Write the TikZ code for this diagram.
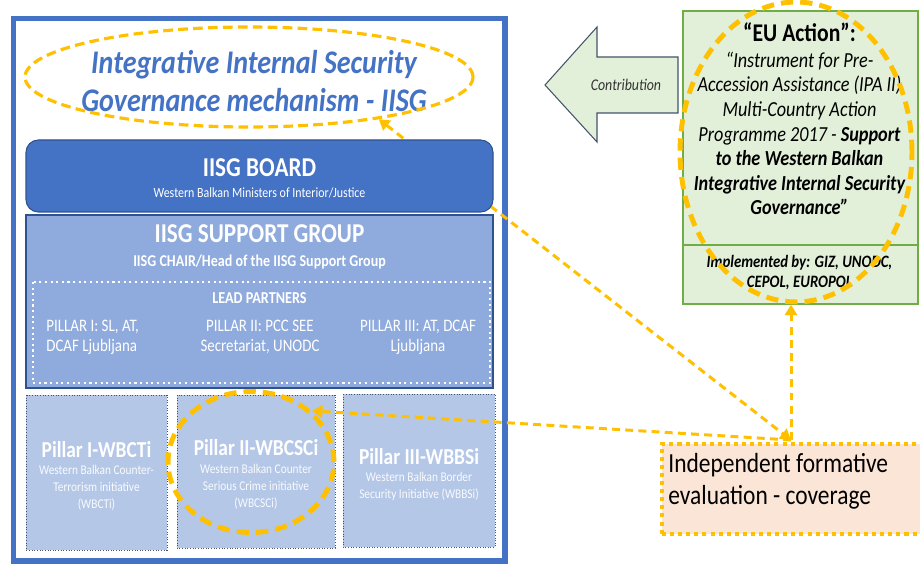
\documentclass[tikz,border=0pt]{standalone}
\usepackage{fontspec}
\setmainfont{Carlito}[FakeStretch=0.85]
\usepackage{xcolor}
\definecolor{iisg-blue}{HTML}{4472C4}
\definecolor{iisg-dark}{HTML}{2F528F}
\definecolor{iisg-mid}{HTML}{8FAADC}
\definecolor{iisg-light}{HTML}{B4C7E7}
\definecolor{pillar-edge}{HTML}{44546A}
\definecolor{eu-green}{HTML}{70AD47}
\definecolor{eu-fill}{HTML}{E2F0D9}
\definecolor{eval-fill}{HTML}{FBE5D6}
\definecolor{mark-gold}{HTML}{FFC000}
\usepackage{tikz}
\usetikzlibrary{shapes.geometric,arrows.meta}

\tikzset{
    group-title/.style={text=white, inner sep=0pt, font=\bfseries\fontsize{15.5}{18}\selectfont},
    pillar-title/.style={text=white, inner sep=0pt, font=\bfseries\fontsize{13}{15}\selectfont},
    pillar-note/.style={text=white!92!iisg-light, inner sep=0pt, align=center, font=\fontsize{7.6}{9.7}\selectfont},
    partner/.style={text=white, inner sep=0pt, align=center, font=\fontsize{10}{11.4}\selectfont},
    pillar-box/.style={fill=iisg-light, draw=pillar-edge, line width=0.5pt, densely dotted},
    ring/.style={ellipse, draw=mark-gold, inner sep=0pt},
    link/.style={draw=mark-gold, line width=1.7pt, dash pattern=on 4.5pt off 3pt, >={Triangle[length=6pt, width=7pt]}},
}

\begin{document}
\begin{tikzpicture}[x=0.02cm, y=-0.02cm]

    % Canvas
    \useasboundingbox (0, 0) rectangle (920, 564);

    % Frame
    \draw[iisg-blue, line width=3.4pt] (13.5, 18.5) rectangle (505, 561);

    % Mechanism heading
    \node[text=iisg-blue, align=center, inner sep=0pt, font=\bfseries\itshape\fontsize{18.8}{21.6}\selectfont] (heading) at (254, 81) {Integrative Internal Security\\Governance mechanism - IISG};
    \node[ring, line width=1.8pt, dash pattern=on 5.5pt off 3pt, minimum width=8.96cm, minimum height=2cm] (heading-ring) at (249, 77) {};

    % Evaluation reach
    \coordinate (hub) at (791, 440);
    \draw[link, <->] (heading-ring.-18) -- (hub);

    % Board
    \filldraw[fill=iisg-blue, draw=iisg-dark, line width=0.6pt, rounded corners=7pt] (26, 140) rectangle (493, 212);
    \node[group-title] (board) at (259.5, 168) {IISG BOARD};
    \node[text=white, inner sep=0pt, font=\fontsize{8}{9}\selectfont] (ministers) at (259.5, 193) {Western Balkan Ministers of Interior/Justice};

    % Support group
    \filldraw[fill=iisg-mid, draw=iisg-dark, line width=0.6pt] (26, 215) rectangle (493, 388);
    \node[group-title] (support) at (259.5, 234) {IISG SUPPORT GROUP};
    \node[text=white, inner sep=0pt, font=\bfseries\fontsize{9.4}{10}\selectfont] (chair) at (259.5, 262) {IISG CHAIR/Head of the IISG Support Group};
    \draw[white, line width=1.2pt, dotted] (33, 282) rectangle (490, 383);
    \node[text=white, inner sep=0pt, font=\bfseries\fontsize{9.5}{11}\selectfont] (partners) at (259.5, 298) {LEAD PARTNERS};
    \node[partner, align=left, anchor=west] (lead-one) at (46, 337) {PILLAR I: SL, AT,\\DCAF Ljubljana};
    \node[partner] (lead-two) at (260, 337) {PILLAR II: PCC SEE\\Secretariat, UNODC};
    \node[partner] (lead-three) at (418, 337) {PILLAR III: AT, DCAF\\Ljubljana};

    % Pillars
    \filldraw[pillar-box] (26, 395) rectangle (167, 550);
    \filldraw[pillar-box] (177, 395) rectangle (335, 548);
    \filldraw[pillar-box] (343, 394) rectangle (495, 547);
    \node[pillar-title] (wbcti) at (96.5, 450) {Pillar I-WBCTi};
    \node[pillar-note] (wbcti-note) at (96.5, 488) {Western Balkan Counter-\\Terrorism initiative\\(WBCTi)};
    \node[pillar-title] (wbcsci) at (256, 448) {Pillar II-WBCSCi};
    \node[pillar-note] (wbcsci-note) at (256, 487) {Western Balkan Counter\\Serious Crime initiative\\(WBCSCi)};
    \node[pillar-title] (wbbsi) at (419, 457) {Pillar III-WBBSi};
    \node[pillar-note] (wbbsi-note) at (419, 486.5) {Western Balkan Border\\Security Initiative (WBBSi)};
    \node[ring, line width=2.8pt, dash pattern=on 7pt off 4pt, minimum width=3.32cm, minimum height=2.82cm] (wbcsci-ring) at (251, 462) {};
    \draw[link, ->] (hub) -- (wbcsci-ring.40);

    % Contribution
    \filldraw[fill=eu-fill, draw=pillar-edge, line width=0.6pt] (545, 85) -- (597, 27) -- (597, 57) -- (678, 57) -- (678, 113) -- (597, 113) -- (597, 142) -- cycle;
    \node[text=black!80, inner sep=0pt, font=\itshape\fontsize{9.3}{11}\selectfont] (contribution) at (626, 85) {Contribution};

    % EU Action
    \node[draw=eu-green, fill=eu-fill, line width=1pt, anchor=north west, minimum width=4.7cm, minimum height=5.86cm] (eu) at (682, 10) {};
    \draw[eu-green, line width=1pt] (eu.west |- 0, 245) -- (eu.east |- 0, 245);
    \node[inner sep=0pt, font=\bfseries\fontsize{14.5}{16}\selectfont] (eu-title) at (799.5, 32) {“EU Action”:};
    \node[inner sep=0pt, align=center, font=\itshape\fontsize{12.2}{14}\selectfont] (ipa) at (799.5, 133.5) {“Instrument for Pre-\\Accession Assistance (IPA II)\\Multi-Country Action\\Programme 2017 - \textbf{Support}\\\textbf{to the Western Balkan}\\\textbf{Integrative Internal Security}\\\textbf{Governance"}};
    \node[inner sep=0pt, align=center, font=\bfseries\itshape\fontsize{9.9}{11.4}\selectfont] (implemented) at (799.5, 273) {Implemented by: GIZ, UNODC,\\CEPOL, EUROPOL};
    \node[ring, line width=2.8pt, dash pattern=on 7pt off 4pt, minimum width=4.64cm, minimum height=6cm] (eu-ring) at (796, 152) {};

    % Evaluation
    \node[fill=eval-fill, draw=mark-gold, line width=2.3pt, dash pattern=on 2.3pt off 2.3pt, anchor=north west, minimum width=5.6cm, minimum height=1.8cm] (eval) at (660, 442) {};
    \node[anchor=west, align=left, inner sep=0pt, font=\fontsize{15.7}{18}\selectfont] (eval-label) at (668, 481) {Independent formative\\evaluation - coverage};
    \draw[link, ->] (hub) -- (hub |- eu.south);

\end{tikzpicture}
\end{document}
